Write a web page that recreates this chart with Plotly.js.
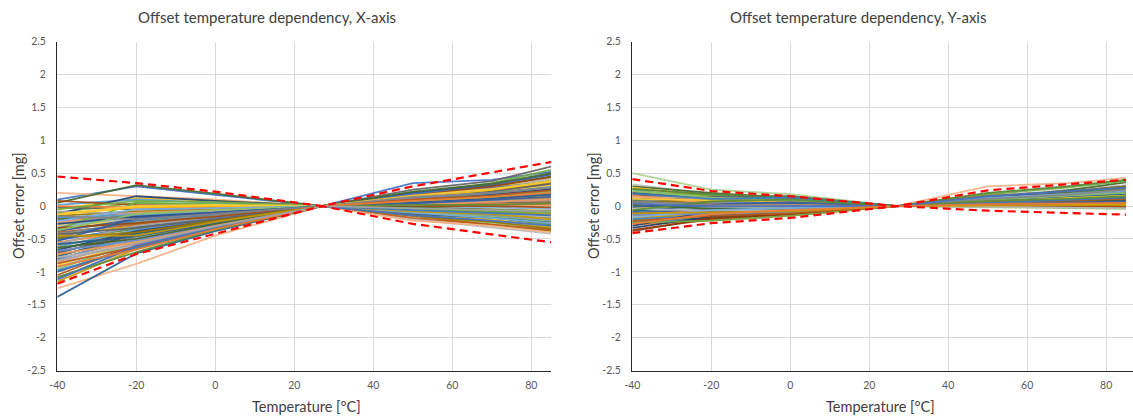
<!DOCTYPE html>
<html>
<head>
<meta charset="utf-8">
<script src="https://cdn.plot.ly/plotly-3.0.1.min.js"></script>
<style>html,body{margin:0;padding:0;background:#fff;}#chart{width:1133px;height:419px;}</style>
</head>
<body>
<div id="chart"></div>
<script>
// Measurement temperatures [°C]
const temps = [-40, -20, 0, 27, 50, 70, 85];
const limitTemps = [-40, -20, 0, 27, 50, 85];

// Offset error [mg] per device, X-axis
const xAxisCurves = [
  [0.10, 0.30, 0.17, 0, 0.35, 0.40, 0.52],
  [0.20, 0.15, 0.10, 0, 0.12, 0.18, 0.25],
  [0.05, 0.32, 0.19, 0, 0.20, 0.30, 0.45],
  [-0.05, 0.12, 0.08, 0, 0.15, 0.28, 0.40],
  [0.02, 0.10, 0.05, 0, 0.05, 0.10, 0.15],
  [-0.10, 0.05, 0.03, 0, 0.18, 0.35, 0.55],
  [-0.12, 0.15, 0.08, 0, 0.10, 0.20, 0.30],
  [0.08, 0.02, 0.00, 0, -0.05, -0.10, -0.15],
  [-0.02, -0.05, -0.03, 0, 0.25, 0.38, 0.60],
  [-0.15, -0.08, -0.05, 0, -0.08, -0.15, -0.25],
  [-0.18, -0.12, -0.08, 0, 0.08, 0.15, 0.22],
  [-0.20, -0.15, -0.10, 0, 0.12, 0.22, 0.35],
  [-0.22, -0.18, -0.12, 0, -0.12, -0.22, -0.30],
  [-0.25, -0.10, -0.06, 0, 0.02, 0.05, 0.08],
  [-0.28, -0.20, -0.12, 0, 0.15, 0.25, 0.42],
  [-0.30, -0.22, -0.15, 0, -0.02, -0.04, -0.06],
  [-0.32, -0.15, -0.08, 0, 0.06, 0.12, 0.18],
  [-0.35, -0.25, -0.15, 0, -0.15, -0.25, -0.35],
  [-0.38, -0.20, -0.12, 0, 0.20, 0.32, 0.48],
  [-0.40, -0.28, -0.18, 0, 0.10, 0.16, 0.24],
  [-0.42, -0.25, -0.14, 0, -0.06, -0.12, -0.18],
  [-0.45, -0.30, -0.18, 0, 0.04, 0.08, 0.12],
  [-0.47, -0.22, -0.12, 0, 0.14, 0.26, 0.38],
  [-0.50, -0.35, -0.20, 0, -0.10, -0.18, -0.28],
  [-0.52, -0.32, -0.18, 0, 0.18, 0.28, 0.36],
  [-0.55, -0.38, -0.22, 0, 0.00, 0.02, 0.02],
  [-0.57, -0.30, -0.16, 0, 0.08, 0.14, 0.20],
  [-0.60, -0.40, -0.24, 0, -0.12, -0.20, -0.32],
  [-0.62, -0.36, -0.20, 0, 0.12, 0.20, 0.30],
  [-0.65, -0.42, -0.25, 0, 0.05, 0.10, 0.16],
  [-0.67, -0.38, -0.22, 0, -0.05, -0.10, -0.14],
  [-0.70, -0.45, -0.26, 0, 0.16, 0.30, 0.44],
  [-0.72, -0.40, -0.22, 0, 0.02, 0.04, 0.06],
  [-0.75, -0.48, -0.28, 0, -0.15, -0.28, -0.38],
  [-0.77, -0.42, -0.24, 0, 0.10, 0.18, 0.26],
  [-0.80, -0.50, -0.28, 0, 0.22, 0.34, 0.50],
  [-0.82, -0.46, -0.26, 0, -0.08, -0.14, -0.22],
  [-0.85, -0.52, -0.30, 0, 0.06, 0.10, 0.14],
  [-0.88, -0.48, -0.27, 0, -0.20, -0.32, -0.42],
  [-0.90, -0.55, -0.30, 0, 0.14, 0.22, 0.32],
  [-0.93, -0.58, -0.32, 0, 0.00, -0.02, -0.04],
  [-0.96, -0.55, -0.30, 0, -0.10, -0.16, -0.24],
  [-1.00, -0.60, -0.33, 0, 0.08, 0.12, 0.18],
  [-1.05, -0.58, -0.32, 0, -0.18, -0.28, -0.36],
  [-1.10, -0.62, -0.34, 0, 0.04, 0.06, 0.10],
  [-1.15, -0.65, -0.35, 0, -0.04, -0.08, -0.12],
  [-1.25, -0.88, -0.45, 0, -0.22, -0.30, -0.40],
  [-1.38, -0.72, -0.38, 0, -0.12, -0.18, -0.25],
  [-0.35, 0.05, 0.02, 0, 0.10, 0.20, 0.28],
  [0.00, -0.02, -0.02, 0, 0.02, 0.03, 0.04],
  [-0.08, -0.12, -0.08, 0, -0.02, -0.05, -0.08],
  [-0.13, -0.02, 0.00, 0, 0.12, 0.24, 0.36],
  [-0.17, -0.13, -0.10, 0, 0.04, 0.08, 0.10],
  [-0.05, 0.08, 0.06, 0, -0.04, -0.08, -0.10],
  [-0.27, -0.16, -0.10, 0, 0.08, 0.16, 0.26],
  [-0.33, -0.26, -0.16, 0, 0.00, 0.00, -0.02],
  [-0.43, -0.33, -0.20, 0, 0.10, 0.22, 0.34],
  [-0.48, -0.40, -0.22, 0, -0.14, -0.24, -0.34],
  [-0.58, -0.46, -0.26, 0, 0.06, 0.12, 0.18],
  [-0.63, -0.50, -0.28, 0, -0.02, -0.06, -0.08],
  [-0.68, -0.52, -0.30, 0, 0.12, 0.20, 0.28],
  [-0.73, -0.55, -0.30, 0, 0.02, 0.06, 0.10],
  [-0.78, -0.60, -0.33, 0, -0.06, -0.12, -0.16],
  [-0.12, 0.00, 0.02, 0, 0.16, 0.26, 0.38],
  [-0.23, -0.05, -0.03, 0, -0.10, -0.18, -0.26],
  [-0.37, -0.12, -0.06, 0, 0.08, 0.14, 0.22],
  [-0.53, -0.18, -0.10, 0, 0.04, 0.10, 0.14],
  [-0.87, -0.62, -0.34, 0, 0.10, 0.16, 0.24],
  [-0.15, -0.20, -0.12, 0, 0.14, 0.20, 0.28],
  [-0.45, -0.45, -0.24, 0, -0.08, -0.12, -0.20],
  [-0.98, -0.64, -0.34, 0, -0.06, -0.10, -0.14],
  [-1.08, -0.70, -0.36, 0, 0.02, 0.02, 0.04],
  [-1.12, -0.60, -0.32, 0, -0.14, -0.22, -0.30],
  [-0.92, -0.66, -0.35, 0, 0.08, 0.14, 0.20],
  [-0.83, -0.57, -0.31, 0, -0.03, -0.05, -0.08]
];
const xUpperLimit = [0.45, 0.35, 0.22, 0, 0.30, 0.67];
const xLowerLimit = [-1.18, -0.73, -0.42, 0, -0.27, -0.55];

// Offset error [mg] per device, Y-axis
const yAxisCurves = [
  [0.50, 0.25, 0.18, 0, 0.10, 0.15, 0.20],
  [0.33, 0.18, 0.10, 0, 0.15, 0.25, 0.32],
  [0.30, 0.20, 0.12, 0, 0.12, 0.24, 0.36],
  [0.28, 0.15, 0.08, 0, 0.08, 0.14, 0.22],
  [0.25, 0.10, 0.06, 0, 0.05, 0.08, 0.12],
  [0.22, 0.16, 0.10, 0, 0.18, 0.28, 0.38],
  [0.20, 0.12, 0.08, 0, 0.03, 0.05, 0.08],
  [0.18, 0.08, 0.05, 0, 0.10, 0.18, 0.26],
  [0.15, 0.14, 0.15, 0, 0.06, 0.10, 0.14],
  [0.12, 0.05, 0.03, 0, 0.02, 0.03, 0.04],
  [0.10, 0.10, 0.12, 0, 0.14, 0.20, 0.28],
  [0.08, 0.04, 0.02, 0, 0.00, 0.00, -0.02],
  [0.05, 0.06, 0.05, 0, 0.08, 0.12, 0.16],
  [0.03, 0.00, 0.00, 0, 0.04, 0.06, 0.08],
  [0.00, 0.02, 0.04, 0, 0.12, 0.18, 0.24],
  [-0.02, -0.02, -0.02, 0, 0.02, 0.02, 0.02],
  [-0.05, -0.04, -0.03, 0, 0.06, 0.10, 0.12],
  [-0.07, -0.06, -0.05, 0, -0.02, -0.03, -0.04],
  [-0.10, -0.05, -0.04, 0, 0.10, 0.16, 0.20],
  [-0.12, -0.08, -0.06, 0, 0.03, 0.04, 0.06],
  [-0.15, -0.10, -0.07, 0, 0.08, 0.14, 0.18],
  [-0.18, -0.12, -0.08, 0, 0.00, 0.01, 0.00],
  [-0.20, -0.14, -0.10, 0, 0.05, 0.08, 0.10],
  [-0.22, -0.18, -0.12, 0, 0.12, 0.20, 0.26],
  [-0.25, -0.20, -0.14, 0, 0.02, 0.04, 0.06],
  [-0.28, -0.22, -0.14, 0, 0.07, 0.10, 0.14],
  [-0.30, -0.08, -0.05, 0, 0.04, 0.06, 0.08],
  [-0.33, -0.16, -0.10, 0, 0.14, 0.22, 0.30],
  [-0.36, -0.20, -0.12, 0, 0.01, 0.00, -0.01],
  [-0.38, -0.18, -0.12, 0, 0.06, 0.08, 0.12],
  [-0.25, -0.22, -0.15, 0, 0.10, 0.12, 0.16],
  [0.14, 0.12, 0.10, 0, 0.30, 0.35, 0.43],
  [0.26, 0.18, 0.14, 0, 0.20, 0.30, 0.40],
  [0.06, 0.08, 0.09, 0, 0.16, 0.22, 0.30],
  [-0.08, 0.02, 0.04, 0, 0.09, 0.14, 0.18],
  [0.02, -0.04, -0.06, 0, 0.05, 0.07, 0.10],
  [-0.13, -0.12, -0.09, 0, 0.11, 0.16, 0.22],
  [0.16, 0.04, 0.02, 0, 0.04, 0.05, 0.06],
  [-0.04, -0.07, -0.06, 0, -0.01, -0.02, -0.03],
  [0.11, 0.09, 0.07, 0, 0.07, 0.12, 0.16],
  [-0.17, -0.06, -0.03, 0, 0.13, 0.18, 0.24],
  [0.23, 0.13, 0.09, 0, 0.09, 0.16, 0.20],
  [-0.01, 0.03, 0.06, 0, 0.03, 0.05, 0.07],
  [-0.23, -0.15, -0.11, 0, 0.06, 0.09, 0.11],
  [0.07, 0.02, 0.01, 0, 0.11, 0.17, 0.25],
  [-0.11, -0.10, -0.08, 0, 0.01, 0.01, 0.02],
  [0.19, 0.11, 0.13, 0, 0.05, 0.09, 0.13],
  [-0.06, 0.07, 0.10, 0, 0.08, 0.11, 0.15],
  [0.04, -0.01, 0.00, 0, 0.15, 0.22, 0.28],
  [-0.27, -0.12, -0.06, 0, 0.03, 0.04, 0.05]
];
const yUpperLimit = [0.41, 0.23, 0.15, 0, 0.24, 0.40];
const yLowerLimit = [-0.41, -0.26, -0.18, 0, -0.07, -0.13];

// Axis ticks
const xTickVals = [-40, -20, 0, 20, 40, 60, 80];
const xTickText = ['-40', '-20', '0', '20', '40', '60', '80'];
const yTickVals = [2.5, 2, 1.5, 1, 0.5, 0, -0.5, -1, -1.5, -2, -2.5];
const yTickText = ['2.5', '2', '1.5', '1', '0.5', '0', '-0.5', '-1', '-1.5', '-2', '-2.5'];

// Styling
const palette = ['#4472C4','#ED7D31','#A5A5A5','#FFC000','#5B9BD5','#70AD47',
  '#264478','#9E480E','#636363','#997300','#255E91','#43682B',
  '#698ED0','#F1975A','#B7B7B7','#FFCD33','#7CAFDD','#8CC168',
  '#335AA1','#BC5A1B','#848484','#C89800','#3B7BBF','#5A8C3A'];
const xColorOverrides = {0: '#4472C4', 1: '#F4B183', 2: '#43682B', 46: '#F4B183', 47: '#255E91', 48: '#70AD47'};
const yColorOverrides = {0: '#A9D18E', 1: '#BFBFBF', 2: '#43682B', 26: '#264478', 27: '#203864', 28: '#9E480E', 29: '#843C0C', 30: '#70AD47', 31: '#F4B183', 32: '#548235'};

const traces = [];
function addCurves(curves, overrides, xa, ya) {
  curves.forEach((row, i) => {
    const c = overrides[i] || palette[i % palette.length];
    traces.push({x: temps, y: row, type: 'scatter', mode: 'lines', xaxis: xa, yaxis: ya,
      line: {color: c, width: 1.8}, opacity: 0.92, hoverinfo: 'skip'});
  });
}
function addLimit(vals, xa, ya) {
  traces.push({x: limitTemps, y: vals, type: 'scatter', mode: 'lines', xaxis: xa, yaxis: ya,
    line: {color: '#FF0000', width: 2.2, dash: '8px,5px'}, hoverinfo: 'skip'});
}
addCurves(xAxisCurves, xColorOverrides, 'x', 'y');
addLimit(xUpperLimit, 'x', 'y');
addLimit(xLowerLimit, 'x', 'y');
addCurves(yAxisCurves, yColorOverrides, 'x2', 'y2');
addLimit(yUpperLimit, 'x2', 'y2');
addLimit(yLowerLimit, 'x2', 'y2');

const W = 1133, H = 419;
const fontFam = 'Lato, "Open Sans", sans-serif';
const yDom = [1 - 370.5 / H, 1 - 41.7 / H];
function xAx(domain, range) {
  return {domain: domain, range: range, tickvals: xTickVals, ticktext: xTickText,
    showgrid: true, gridcolor: '#d9d9d9', gridwidth: 1, zeroline: false,
    showline: true, linecolor: '#262626', linewidth: 1.3, ticks: '',
    ticklabelstandoff: 5, tickfont: {family: fontFam, size: 10.5, color: '#595959'}};
}
function yAx(anchor) {
  return {domain: yDom, range: [-2.5, 2.5], tickvals: yTickVals, ticktext: yTickText,
    anchor: anchor, showgrid: true, gridcolor: '#d9d9d9', gridwidth: 1, zeroline: false,
    showline: true, linecolor: '#262626', linewidth: 1.3, ticks: '',
    ticklabelstandoff: 8, tickfont: {family: fontFam, size: 10.5, color: '#595959'}};
}
function label(text, px, py, size, angle) {
  return {text: text, x: px / W, y: 1 - py / H, xref: 'paper', yref: 'paper',
    xanchor: 'center', yanchor: 'middle', showarrow: false, textangle: angle || 0,
    font: {family: fontFam, size: size, color: '#404040'}};
}
const layout = {
  width: W, height: H, margin: {l: 0, r: 0, t: 0, b: 0},
  paper_bgcolor: '#ffffff', plot_bgcolor: '#ffffff', showlegend: false,
  font: {family: fontFam},
  xaxis: xAx([57.3 / W, 551 / W], [-40, 85]),
  yaxis: yAx('x'),
  xaxis2: xAx([632.3 / W, 1], [-40, 86.8]),
  yaxis2: yAx('x2'),
  annotations: [
    label('Offset temperature dependency, X-axis', 267, 17, 15),
    label('Offset temperature dependency, Y-axis', 858, 17, 15),
    label('Temperature [°C]', 306, 406, 14.5),
    label('Temperature [°C]', 880, 406, 14.5),
    label('Offset error [mg]', 18, 206, 14.5, -90),
    label('Offset error [mg]', 593, 206, 14.5, -90)
  ]
};
Plotly.newPlot('chart', traces, layout, {staticPlot: true, displayModeBar: false});
</script>
</body>
</html>
